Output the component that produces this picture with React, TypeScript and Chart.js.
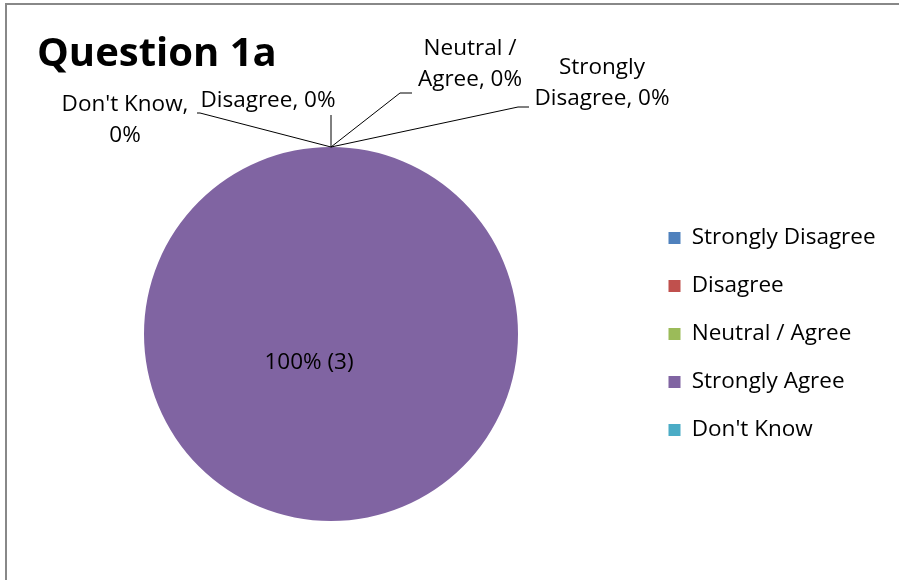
import React, { useEffect, useRef } from "react";
import { Chart, registerables } from "chart.js";

Chart.register(...registerables);

const TITLE = "Question 1a";
const CATEGORIES = ["Strongly Disagree", "Disagree", "Neutral / Agree", "Strongly Agree", "Don't Know"];
const COUNTS = [0, 0, 0, 3, 0];
const COLORS = ["#4F81BD", "#C0504D", "#9BBB59", "#8064A2", "#4BACC6"];

// words on the first line of each outside label
const LABEL_BREAKS = [1, 0, 2, 0, 2];

const FONT_FAMILY = '"Open Sans", "DejaVu Sans", sans-serif';
const LABEL_SIZE = 22.5;
const TITLE_SIZE = 40;

// label placement relative to the slice anchor point (top of the pie)
const LABEL_LAYOUT: { text: [number, number]; leader: [number, number][] }[] = [
  { text: [271, -79], leader: [[187, -40], [198, -40]] },
  { text: [-63, -46], leader: [[0, -32]] },
  { text: [139, -98], leader: [[69, -54], [81, -54]] },
  { text: [-22, 29], leader: [] },
  { text: [-206, -42], leader: [[-131, -34], [-134, -34]] },
];

const LINE_GAP = 31;

export default function App() {
  const ref = useRef<HTMLCanvasElement | null>(null);

  useEffect(() => {
    document.body.style.margin = "0";
    const canvas = ref.current!;
    const total = COUNTS.reduce((a, b) => a + b, 0);

    const legendPad = 48 - LABEL_SIZE;
    const boxW = 12;
    const legendLeft = 643;
    const padLeft = 2 * 331 - legendLeft;

    const labelPlugin = {
      id: "labels",
      afterDatasetsDraw(chart: any) {
        const ctx = chart.ctx as CanvasRenderingContext2D;
        const meta = chart.getDatasetMeta(0);
        ctx.save();
        ctx.fillStyle = "#000";
        ctx.font = `bold ${TITLE_SIZE}px ${FONT_FAMILY}`;
        ctx.textAlign = "left";
        ctx.textBaseline = "alphabetic";
        ctx.fillText(TITLE, 37, 66);

        ctx.font = `${LABEL_SIZE}px ${FONT_FAMILY}`;
        ctx.textAlign = "center";
        ctx.textBaseline = "middle";
        ctx.strokeStyle = "#000";
        ctx.lineWidth = 1;
        meta.data.forEach((arc: any, i: number) => {
          const v = COUNTS[i];
          const pct = total ? Math.round((v / total) * 100) : 0;
          const lay = LABEL_LAYOUT[i];
          if (v > 0) {
            ctx.fillText(`${pct}% (${v})`, arc.x + lay.text[0], arc.y + lay.text[1]);
            return;
          }
          const ax = arc.x + Math.cos(arc.startAngle) * arc.outerRadius;
          const ay = arc.y + Math.sin(arc.startAngle) * arc.outerRadius;
          if (lay.leader.length) {
            ctx.beginPath();
            ctx.moveTo(ax, ay);
            lay.leader.forEach(([dx, dy]) => ctx.lineTo(ax + dx, ay + dy));
            ctx.stroke();
          }
          const words = `${CATEGORIES[i]}, ${pct}%`.split(" ");
          const b = LABEL_BREAKS[i];
          const lines = b > 0 ? [words.slice(0, b).join(" "), words.slice(b).join(" ")] : [words.join(" ")];
          lines.forEach((ln, k) => {
            ctx.fillText(ln, ax + lay.text[0], ay + lay.text[1] + k * LINE_GAP);
          });
        });
        ctx.restore();
      },
    };

    const chart = new Chart(canvas, {
      type: "pie",
      data: {
        labels: CATEGORIES,
        datasets: [
          {
            data: COUNTS,
            backgroundColor: COLORS,
            borderWidth: 0,
          },
        ],
      },
      options: {
        responsive: false,
        animation: false,
        layout: { padding: { top: 147, bottom: 59, left: padLeft, right: 10 } },
        plugins: {
          tooltip: { enabled: false },
          title: { display: false },
          legend: {
            display: true,
            position: "right",
            align: "center",
            labels: {
              boxWidth: boxW,
              boxHeight: 12,
              padding: legendPad,
              color: "#000",
              font: { family: FONT_FAMILY, size: LABEL_SIZE },
            },
          },
        },
      },
      plugins: [labelPlugin],
    });
    // shift so the legend starts where it should
    const lg: any = chart.legend;
    const dx = lg.left - legendLeft;
    if (Math.abs(dx) > 0.5) {
      (chart.options.layout as any).padding.right = 10 + dx;
      chart.update();
    }
    return () => chart.destroy();
  }, []);

  return (
    <div style={{ position: "fixed", left: 0, top: 0, width: 899, height: 580, background: "#fff", overflow: "hidden" }}>
      <div
        style={{
          position: "absolute",
          left: 5,
          top: 3,
          width: 1000,
          height: 1000,
          borderLeft: "2px solid #888",
          borderTop: "2px solid #888",
        }}
      />
      <canvas ref={ref} width={899} height={580} style={{ position: "absolute", left: 0, top: 0 }} />
    </div>
  );
}
